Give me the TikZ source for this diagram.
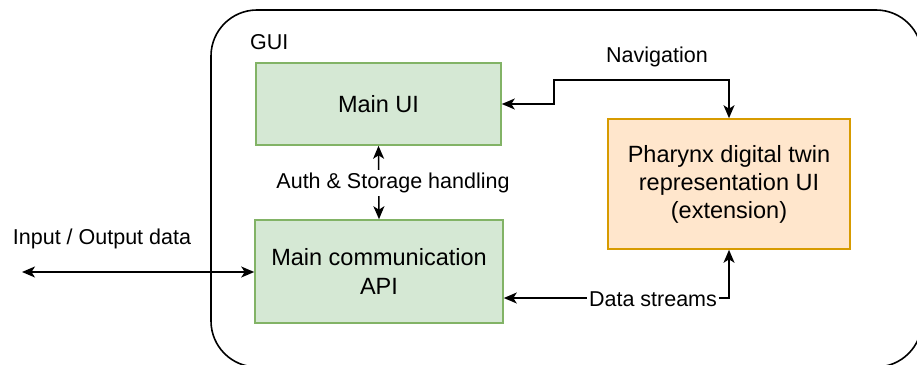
\documentclass[tikz,border=0pt]{standalone}
\usepackage{fontspec}
\setmainfont{Liberation Sans}
\usetikzlibrary{arrows.meta}
\definecolor{gfill}{HTML}{D5E8D4}
\definecolor{gline}{HTML}{82B366}
\definecolor{ofill}{HTML}{FFE6CC}
\definecolor{oline}{HTML}{D79B00}
\tikzset{
  greenbox/.style={draw=gline,fill=gfill,line width=1.6pt,inner sep=0pt,align=center,font=\fontsize{23.5}{29}\selectfont},
  orangebox/.style={draw=oline,fill=ofill,line width=1.6pt,inner sep=0pt,align=center,font=\fontsize{23.5}{28}\selectfont},
  conn/.style={line width=1.5pt,{Stealth[length=13pt,width=11pt,inset=3.5pt]}-{Stealth[length=13pt,width=11pt,inset=3.5pt]}},
  lbl/.style={font=\fontsize{21.5}{25}\selectfont,inner sep=1pt},
}
\begin{document}
\begin{tikzpicture}[x=1pt,y=-1pt]
\useasboundingbox (0,0) rectangle (917,364);
\begin{scope}
\clip (0,0) rectangle (917,364);
\draw[line width=1.6pt,rounded corners=46pt] (211,10) rectangle (922,367);
\end{scope}
\node[lbl,anchor=west] (gui) at (249,42) {GUI};
\node[greenbox,minimum width=245pt,minimum height=82pt] (mainui) at (378.5,104) {Main UI};
\node[greenbox,minimum width=248pt,minimum height=103pt] (api) at (379,271.5) {Main communication\\API};
\node[orangebox,minimum width=242pt,minimum height=130pt] (phx) at (729,184) {Pharynx digital twin\\representation UI\\(extension)};
\coordinate (io) at (22,272);
\draw[conn] (io) -- (api.west |- io);
\node[lbl] (iolbl) at (102,239) {Input / Output data};
\draw[conn] (mainui.south) -- (api.north);
\node[lbl,fill=white,inner sep=3pt] (auth) at (393,183) {Auth \& Storage handling};
\draw[conn] (mainui.east |- 0,104) -- (554,104) -- (554,80) -- (phx.north |- 0,80) -- (phx.north);
\node[lbl] (nav) at (657,57) {Navigation};
\draw[conn] (api.east |- 0,298) -- (phx.south |- 0,298) -- (phx.south);
\node[lbl,fill=white,inner sep=2pt] (ds) at (653,299) {Data streams};
\end{tikzpicture}
\end{document}
